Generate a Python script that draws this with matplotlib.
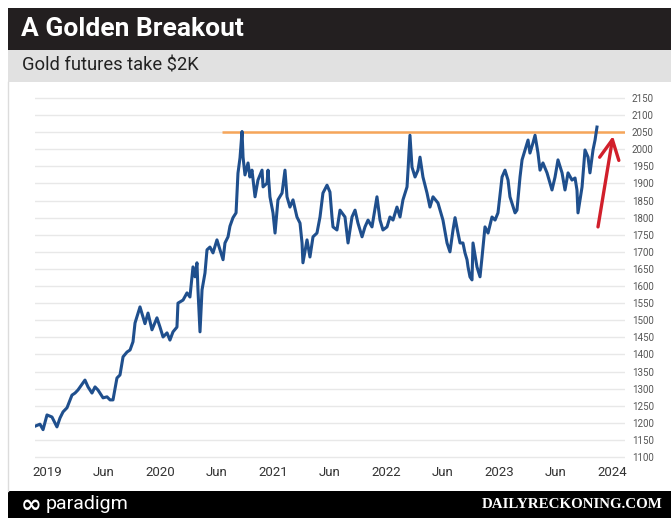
import matplotlib
matplotlib.use("Agg")
import matplotlib.pyplot as plt
from matplotlib.patches import Rectangle, FancyArrowPatch
from matplotlib.lines import Line2D

# ---------------- data ----------------
years_since_2019 = [
    -0.106, -0.062, -0.035, 0.000, 0.044, 0.088, 0.115, 0.142, 0.177, 0.221,
    0.248, 0.274, 0.336, 0.363, 0.398, 0.425, 0.451, 0.496, 0.531, 0.558,
    0.584, 0.619, 0.646, 0.673, 0.708, 0.735, 0.761, 0.779, 0.823, 0.867,
    0.894, 0.929, 0.973, 1.000, 1.027, 1.062, 1.088, 1.115, 1.150, 1.159,
    1.204, 1.239, 1.265, 1.292, 1.310, 1.327, 1.336, 1.354, 1.372, 1.398,
    1.416, 1.442, 1.469, 1.504, 1.531, 1.558, 1.575, 1.602, 1.619, 1.646,
    1.673, 1.690, 1.708, 1.726, 1.735, 1.752, 1.779, 1.796, 1.814, 1.841,
    1.867, 1.903, 1.912, 1.947, 1.956, 1.973, 2.000, 2.018, 2.044, 2.080,
    2.106, 2.124, 2.150, 2.177, 2.212, 2.239, 2.257, 2.265, 2.301, 2.327,
    2.354, 2.389, 2.416, 2.442, 2.478, 2.504, 2.522, 2.531, 2.566, 2.593,
    2.637, 2.664, 2.699, 2.726, 2.752, 2.788, 2.814, 2.841, 2.876, 2.920,
    2.947, 2.973, 3.009, 3.035, 3.062, 3.097, 3.124, 3.150, 3.186, 3.195,
    3.212, 3.230, 3.257, 3.283, 3.301, 3.327, 3.363, 3.389, 3.416, 3.460,
    3.504, 3.540, 3.566, 3.593, 3.611, 3.637, 3.655, 3.681, 3.699, 3.717,
    3.726, 3.743, 3.761, 3.770, 3.805, 3.832, 3.850, 3.876, 3.903, 3.938,
    3.965, 3.991, 4.027, 4.053, 4.080, 4.097, 4.142, 4.159, 4.186, 4.204,
    4.230, 4.257, 4.274, 4.301, 4.319, 4.345, 4.363, 4.389, 4.425, 4.451,
    4.469, 4.496, 4.522, 4.558, 4.584, 4.611, 4.646, 4.673, 4.690, 4.699,
    4.735, 4.761, 4.788, 4.805, 4.832, 4.850, 4.867,
]
gold_price = [
    1190, 1196, 1180, 1223, 1217, 1188, 1214, 1232, 1244, 1281,
    1287, 1296, 1325, 1305, 1287, 1305, 1296, 1273, 1276, 1267,
    1267, 1331, 1340, 1393, 1407, 1413, 1437, 1492, 1539, 1490,
    1521, 1472, 1507, 1480, 1451, 1463, 1442, 1466, 1480, 1550,
    1559, 1580, 1568, 1656, 1627, 1668, 1589, 1466, 1589, 1638,
    1706, 1714, 1697, 1735, 1706, 1677, 1726, 1744, 1775, 1800,
    1814, 1930, 1975, 2052, 1977, 1925, 1960, 1919, 1939, 1861,
    1910, 1939, 1890, 1901, 1939, 1861, 1814, 1755, 1852, 1872,
    1939, 1861, 1831, 1852, 1802, 1784, 1726, 1668, 1735, 1685,
    1744, 1755, 1802, 1872, 1895, 1875, 1802, 1773, 1764, 1822,
    1802, 1726, 1802, 1822, 1784, 1744, 1773, 1793, 1773, 1861,
    1793, 1764, 1773, 1802, 1793, 1831, 1802, 1852, 1890, 1939,
    2041, 1948, 1919, 1939, 1977, 1919, 1872, 1831, 1861, 1843,
    1793, 1726, 1700, 1764, 1800, 1755, 1726, 1726, 1697, 1677,
    1656, 1627, 1618, 1726, 1656, 1627, 1685, 1773, 1755, 1802,
    1793, 1814, 1919, 1939, 1910, 1861, 1814, 1822, 1919, 1969,
    1998, 2027, 1989, 2019, 2041, 1989, 1939, 1960, 1931, 1901,
    1881, 1919, 1969, 1931, 1881, 1931, 1910, 1916, 1881, 1814,
    1890, 1998, 1977, 1931, 1998, 2027, 2065,
]
resistance_level = 2050
resistance_start = 2020.549
base_year = 2019
x_tick_values = [2019, 2019.5, 2020, 2020.5, 2021, 2021.5, 2022, 2022.5, 2023, 2023.5, 2024]
x_tick_labels = ["2019", "Jun", "2020", "Jun", "2021", "Jun", "2022", "Jun", "2023", "Jun", "2024"]
y_tick_values = list(range(1100, 2151, 50))
arrow_tail = (2023.876, 1773)
arrow_tip = (2024.009, 2039)

title = "A Golden Breakout"
subtitle = "Gold futures take $2K"
brand_left = "paradigm"
brand_right = "DAILYRECKONING.COM"

# ---------------- figure ----------------
W, H = 671, 518
fig = plt.figure(figsize=(W / 100, H / 100), dpi=100)
fig.patch.set_facecolor("white")

def fx(px):
    return px / W

def fy(py):
    return 1 - py / H

# header bars
fig.add_artist(Rectangle((fx(8), fy(50)), fx(W - 8), 42 / H, transform=fig.transFigure,
                         facecolor="#231f20", edgecolor="none"))
fig.add_artist(Rectangle((fx(8), fy(82)), fx(W - 8), 32 / H, transform=fig.transFigure,
                         facecolor="#e1e1e1", edgecolor="none"))
# footer bar
fig.add_artist(Rectangle((fx(8), 0), fx(W - 8), 27 / H, transform=fig.transFigure,
                         facecolor="#000000", edgecolor="none"))
# thin left border of the card
fig.add_artist(Line2D([fx(8), fx(8)], [27 / H, fy(82)], transform=fig.transFigure,
                      color="#dcdcdc", lw=1))

fig.text(fx(21), fy(29), title, color="white", fontsize=19, fontweight="bold",
         family="Roboto", va="center", ha="left")
fig.text(fx(22), fy(66), subtitle, color="#222222", fontsize=13.2,
         family="Roboto", va="center", ha="left")
fig.text(fx(21), 13.5 / H, "\u221e", color="white", fontsize=18, fontweight="bold",
         family="DejaVu Sans", va="center", ha="left")
fig.text(fx(46), 14 / H, brand_left, color="white", fontsize=14,
         family="Roboto", va="center", ha="left")
fig.text(fx(663), 13.5 / H, brand_right, color="white", fontsize=10.8, fontweight="bold",
         family="Liberation Serif", va="center", ha="right")

# ---------------- chart ----------------
ax_left, ax_right, ax_top, ax_bottom = 35, 625, 92, 462
ax = fig.add_axes([fx(ax_left), fy(ax_bottom), (ax_right - ax_left) / W,
                   (ax_bottom - ax_top) / H])
ax.set_facecolor("white")

xs = [base_year + t for t in years_since_2019]
ax.plot(xs, gold_price, color="#1f4f8d", lw=2.2, solid_joinstyle="round", zorder=3)

x_lo = 2019 + (ax_left - 47) / 113
x_hi = 2019 + (ax_right - 47) / 113
ax.set_xlim(x_lo, x_hi)
y_per_px = 1050 / 359
ax.set_ylim(1100 - (ax_bottom - 457) * y_per_px, 2150 + (98 - ax_top) * y_per_px)

ax.hlines(resistance_level, resistance_start, x_hi, color="#f6a55a", lw=1.8, zorder=2)

arrow = FancyArrowPatch(arrow_tail, arrow_tip,
                        arrowstyle="->,head_length=0.7,head_width=0.35",
                        mutation_scale=20, color="#d11f2b", lw=2.4, zorder=4,
                        shrinkA=0, shrinkB=0)
ax.add_patch(arrow)

ax.set_yticks(y_tick_values)
ax.set_yticklabels([str(v) for v in y_tick_values])
ax.yaxis.tick_right()
ax.tick_params(axis="y", length=0, pad=5, labelsize=7, labelcolor="#555555")
ax.set_xticks(x_tick_values)
ax.set_xticklabels(x_tick_labels)
ax.tick_params(axis="x", length=0, pad=3, labelsize=9.5, labelcolor="#333333")
for lbl in ax.get_xticklabels() + ax.get_yticklabels():
    lbl.set_family("Roboto")

ax.grid(axis="y", color="#e8e8e8", lw=1)
ax.set_axisbelow(True)
for s in ax.spines.values():
    s.set_visible(False)

fig.savefig("out.png", dpi=100, facecolor="white")
